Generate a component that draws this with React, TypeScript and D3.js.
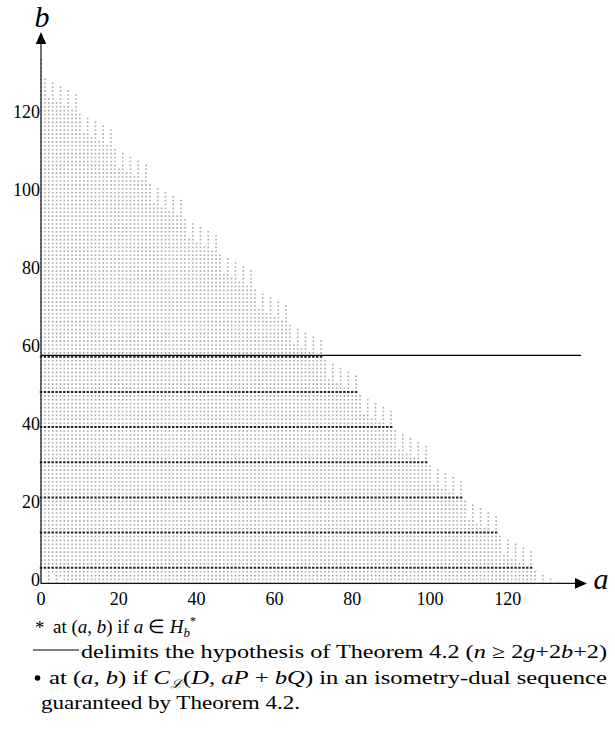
import React from "react";
import * as d3 from "d3";

// Curve y^2 + y = x^9 over F_64 (g = 4), P = P_inf, Q = P_00, D = the other 127 points.
const N_POINTS = 127;
const GENUS = 4;
const D_POLE_SHIFT = 128; // D ~ 128P - Q
const Q_RESIDUE = [0, 5, 1, 6, 2, 7, 3, 8, 4]; // extra pole order at Q needed, by a mod 9
const BULLET_ROWS = [4, 13, 22, 31, 40, 49, 58];
const HYPOTHESIS_B = 58; // n >= 2g + 2b + 2
const X_TICKS = [0, 20, 40, 60, 80, 100, 120];
const Y_TICKS = [0, 20, 40, 60, 80, 100, 120];
const A_RANGE = [0, 140];
const B_RANGE = [0, 140];

const betaMin = (alpha: number) => -alpha + Q_RESIDUE[((alpha % 9) + 9) % 9];
const inHStar = (a: number, b: number) =>
  betaMin(a) <= b && betaMin(a - D_POLE_SHIFT) > b + 1;

const x = d3.scaleLinear().domain([0, 120]).range([41, 41 + 3.89 * 120]);
const y = d3.scaleLinear().domain([0, 120]).range([583.4, 583.4 - 3.907 * 120]);

function buildPaths() {
  const gray = d3.path();
  const black = d3.path();
  const gs = 1.6;
  for (let b = B_RANGE[0]; b <= B_RANGE[1]; b++) {
    for (let a = A_RANGE[0]; a <= A_RANGE[1]; a++) {
      if (!inHStar(a, b)) continue;
      const cx = x(a), cy = y(b);
      if (BULLET_ROWS.includes(b) && b <= (N_POINTS - 2 * GENUS - 2) / 2) {
        black.rect(cx - 1.2, cy - 1.0, 2.4, 2.0);
      } else {
        gray.rect(cx - gs / 2, cy - gs / 2, gs, gs);
      }
    }
  }
  return { gray: gray.toString(), black: black.toString() };
}

const FONT = "'Liberation Serif', 'Times New Roman', serif";

export default function App() {
  const { gray, black } = React.useMemo(buildPaths, []);
  const x0 = x(0), y0 = y(0);
  const it = { fontStyle: "italic" } as const;
  return (
    <svg
      width={615}
      height={731}
      style={{ position: "absolute", left: 0, top: 0, background: "#fff" }}
      fontFamily={FONT}
    >
      <rect width={615} height={731} fill="#fff" />
      <path d={gray} fill="#a9a9a9" />
      <path d={black} fill="#1e1e1e" />
      {/* hypothesis line */}
      <line x1={x0} x2={581} y1={y(HYPOTHESIS_B) - 1.4} y2={y(HYPOTHESIS_B) - 1.4} stroke="#000" strokeWidth={1.1} />
      {/* axes */}
      <line x1={x0} x2={576} y1={y0} y2={y0} stroke="#111" strokeWidth={1.2} />
      <path d={`M587,${y0} L575,${y0 - 5.3} L575,${y0 + 5.3} Z`} fill="#000" />
      <line x1={x0} x2={x0} y1={y0} y2={44} stroke="#111" strokeWidth={1.2} />
      <path d={`M${x0},32 L${x0 - 5.2},44 L${x0 + 5.2},44 Z`} fill="#000" />
      <text x={601} y={589} fontSize={30} textAnchor="middle" style={it}>a</text>
      <text x={42} y={27} fontSize={30} textAnchor="middle" style={it}>b</text>
      {X_TICKS.map((v) => (
        <text key={"x" + v} x={x(v)} y={605} fontSize={18} textAnchor="middle">{v}</text>
      ))}
      {Y_TICKS.map((v) => (
        <text key={"y" + v} x={40} y={y(v) + 3} fontSize={18} textAnchor="end">{v}</text>
      ))}
      {/* legend */}
      <text x={35} y={634} fontSize={19}>*</text>
      <text x={53} y={633} fontSize={19}>
        at (<tspan style={it}>a</tspan>, <tspan style={it}>b</tspan>) if <tspan style={it}>a</tspan> ∈ <tspan style={it}>H</tspan>
        <tspan style={it} fontSize={13} dy={4}>b</tspan>
        <tspan fontSize={12} dx={0} dy={-12}>*</tspan>
      </text>
      <line x1={33} x2={79} y1={650} y2={650} stroke="#000" strokeWidth={1} />
      <text x={81} y={658} fontSize={19} textLength={526} lengthAdjust="spacingAndGlyphs">
        delimits the hypothesis of Theorem 4.2 (<tspan style={it}>n</tspan> ≥ 2<tspan style={it}>g</tspan>+2<tspan style={it}>b</tspan>+2)
      </text>
      <circle cx={37.5} cy={678} r={2.8} fill="#000" />
      <text x={49} y={684} fontSize={19} textLength={558} lengthAdjust="spacingAndGlyphs">
        at (<tspan style={it}>a</tspan>, <tspan style={it}>b</tspan>) if <tspan style={it}>C</tspan>
        <tspan fontSize={12} dy={4} style={it}>ℒ</tspan>
        <tspan dy={-4}>(</tspan><tspan style={it}>D</tspan>, <tspan style={it}>aP</tspan> + <tspan style={it}>bQ</tspan>) in an isometry-dual sequence
      </text>
      <text x={41} y={709} fontSize={19} textLength={259} lengthAdjust="spacingAndGlyphs">
        guaranteed by Theorem 4.2.
      </text>
    </svg>
  );
}
